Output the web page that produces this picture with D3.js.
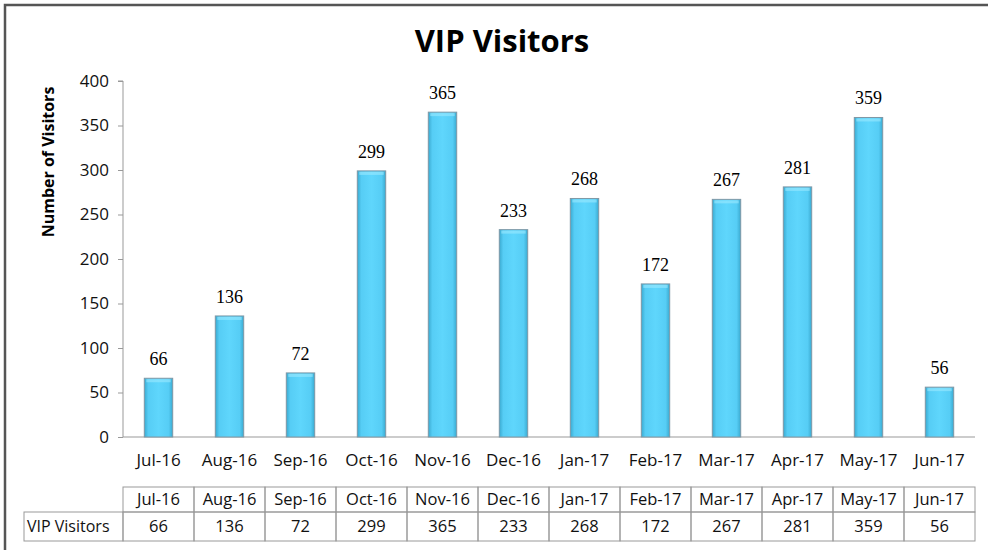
<!DOCTYPE html>
<html>
<head>
<meta charset="utf-8">
<script src="https://cdn.jsdelivr.net/npm/d3@7"></script>
<style>
  body { margin: 0; background: #fff; }
  svg { display: block; }
</style>
</head>
<body>
<div id="chart"></div>
<script>
const months = ['Jul-16', 'Aug-16', 'Sep-16', 'Oct-16', 'Nov-16', 'Dec-16', 'Jan-17', 'Feb-17', 'Mar-17', 'Apr-17', 'May-17', 'Jun-17'];
const visitors = [66, 136, 72, 299, 365, 233, 268, 172, 267, 281, 359, 56];
const yTicks = [0, 50, 100, 150, 200, 250, 300, 350, 400];
const seriesName = 'VIP Visitors';

const width = 988, height = 550;
const margin = { top: 81, left: 123, right: 13, bottom: 113 };
const plotW = width - margin.left - margin.right;
const plotH = height - margin.top - margin.bottom;
const sans = "'Open Sans', 'DejaVu Sans', sans-serif";

const svg = d3.select('#chart').append('svg')
    .attr('width', width)
    .attr('height', height);

// 外框
svg.append('rect')
    .attr('x', 5).attr('y', 5)
    .attr('width', 1000).attr('height', 600)
    .attr('fill', 'none').attr('stroke', '#555').attr('stroke-width', 2.5);

// 柱子渐变
const defs = svg.append('defs');
const grad = defs.append('linearGradient').attr('id', 'barGrad').attr('x1', 0).attr('x2', 1).attr('y1', 0).attr('y2', 0);
grad.append('stop').attr('offset', '0%').attr('stop-color', '#3aa9cf');
grad.append('stop').attr('offset', '14%').attr('stop-color', '#56cdf5');
grad.append('stop').attr('offset', '50%').attr('stop-color', '#5fd6fc');
grad.append('stop').attr('offset', '86%').attr('stop-color', '#56cdf5');
grad.append('stop').attr('offset', '100%').attr('stop-color', '#3aa9cf');

// 标题
svg.append('text')
    .attr('x', 502).attr('y', 52)
    .attr('text-anchor', 'middle')
    .style('font-family', sans).style('font-size', '31px').style('font-weight', 'bold')
    .text('VIP Visitors');

const g = svg.append('g').attr('transform', `translate(${margin.left},${margin.top})`);

const xScale = d3.scaleBand().domain(months).range([0, plotW]).paddingInner(0.6).paddingOuter(0.3);
const yScale = d3.scaleLinear().domain([0, 400]).range([plotH, 0]);

// y 轴
const yAxis = d3.axisLeft(yScale).tickValues(yTicks).tickSize(5).tickPadding(9);
const yG = g.append('g').call(yAxis);
yG.select('.domain').attr('stroke', '#999').attr('d', `M-5,0H0V${plotH}`);
yG.selectAll('.tick line').attr('stroke', '#999');
yG.selectAll('.tick text').style('font-family', sans).style('font-size', '17px').attr('fill', '#111');

// x 轴
const xAxis = d3.axisBottom(xScale).tickSize(0).tickPadding(17);
const xG = g.append('g').attr('transform', `translate(0,${plotH})`).call(xAxis);
xG.select('.domain').attr('stroke', '#999').attr('d', `M0,0H${plotW}`);
xG.selectAll('.tick text').style('font-family', sans).style('font-size', '17px').attr('fill', '#111');

// y 轴标题
svg.append('text')
    .attr('transform', 'translate(54,162) rotate(-90)')
    .attr('text-anchor', 'middle')
    .style('font-family', sans).style('font-size', '16px').style('font-weight', 'bold')
    .text('Number of Visitors');

// 柱子
g.selectAll('.bar')
    .data(visitors)
    .enter()
    .append('rect')
    .attr('class', 'bar')
    .attr('x', (_, i) => xScale(months[i]))
    .attr('y', d => yScale(d))
    .attr('width', xScale.bandwidth())
    .attr('height', d => plotH - yScale(d))
    .attr('fill', 'url(#barGrad)')
    .attr('stroke', '#7f98a6').attr('stroke-width', 1);

// 柱顶高光
g.selectAll('.bar-top')
    .data(visitors)
    .enter()
    .append('rect')
    .attr('class', 'bar-top')
    .attr('x', (_, i) => xScale(months[i]) + 2)
    .attr('y', d => yScale(d) + 1)
    .attr('width', xScale.bandwidth() - 4)
    .attr('height', 3)
    .attr('fill', '#9be9ff')
    .attr('opacity', 0.6);

// 数值标签
g.selectAll('.label')
    .data(visitors)
    .enter()
    .append('text')
    .attr('class', 'label')
    .attr('x', (_, i) => xScale(months[i]) + xScale.bandwidth() / 2)
    .attr('y', d => yScale(d) - 13)
    .attr('text-anchor', 'middle')
    .style('font-family', "'Liberation Serif', 'Times New Roman', serif")
    .style('font-size', '18px')
    .text(d => d);

// 数据表
const tableTop = 487, rowH = 25, rowH2 = 29, labelLeft = 24;
const step = xScale.step();
const tb = svg.append('g');
const cellStroke = '#999';
months.forEach((m, i) => {
    const x0 = margin.left + i * step;
    tb.append('rect').attr('x', x0).attr('y', tableTop).attr('width', step).attr('height', rowH)
        .attr('fill', 'none').attr('stroke', cellStroke);
    tb.append('rect').attr('x', x0).attr('y', tableTop + rowH).attr('width', step).attr('height', rowH2)
        .attr('fill', 'none').attr('stroke', cellStroke);
    tb.append('text').attr('x', x0 + step / 2).attr('y', tableTop + rowH / 2).attr('dy', '0.35em')
        .attr('text-anchor', 'middle').style('font-family', sans).style('font-size', '16.5px').attr('fill', '#111').text(m);
    tb.append('text').attr('x', x0 + step / 2).attr('y', tableTop + rowH + rowH2 / 2).attr('dy', '0.35em')
        .attr('text-anchor', 'middle').style('font-family', sans).style('font-size', '16.5px').attr('fill', '#111').text(visitors[i]);
});
tb.append('rect').attr('x', labelLeft).attr('y', tableTop + rowH).attr('width', margin.left - labelLeft).attr('height', rowH2)
    .attr('fill', 'none').attr('stroke', cellStroke);
tb.append('text').attr('x', labelLeft + 3).attr('y', tableTop + rowH + rowH2 / 2).attr('dy', '0.35em')
    .style('font-family', sans).style('font-size', '16px').attr('fill', '#111').text(seriesName);
</script>
</body>
</html>
